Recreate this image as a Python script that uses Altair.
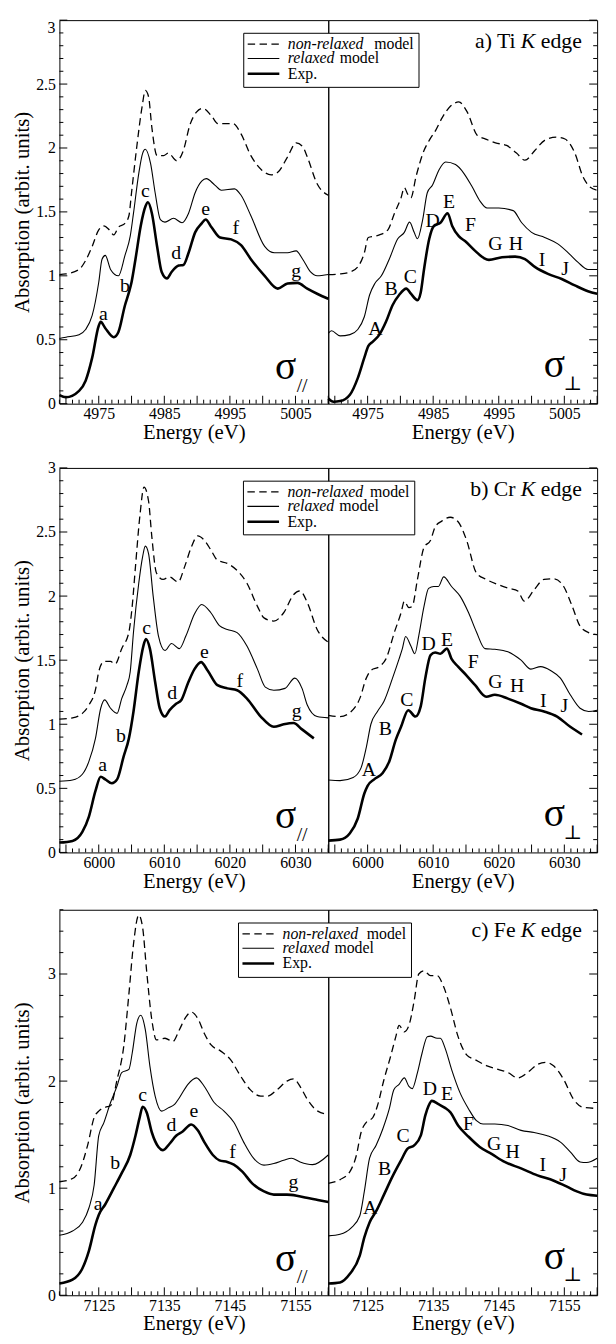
import altair as alt
import numpy as np
import pandas as pd

FONT = "Liberation Serif"
SYMFONT = "Liberation Serif, DejaVu Serif, DejaVu Sans"

# ---------------- Ti K edge ----------------
TI_PAR_NONREL = [(4969,1.01),(4970,1.015),(4972,1.05),(4973,1.12),(4974,1.23),(4975,1.36),(4975.8,1.39),(4976.6,1.36),(4977.3,1.32),(4978,1.38),(4979,1.41),(4979.6,1.47),(4980,1.65),(4980.8,2.01),(4981.6,2.32),(4982.1,2.45),(4982.6,2.40),(4983.1,2.16),(4983.9,1.94),(4984.9,1.94),(4985.6,1.96),(4986.9,1.90),(4987.9,1.98),(4988.9,2.18),(4989.9,2.28),(4990.9,2.31),(4992.2,2.25),(4993.2,2.19),(4994.2,2.19),(4995.5,2.19),(4996.7,2.11),(4998.2,1.94),(4999.8,1.83),(5001.3,1.79),(5002.3,1.81),(5003.8,1.93),(5005.1,2.04),(5006.1,2.01),(5006.8,1.93),(5008.3,1.72),(5010,1.63)]
TI_PAR_REL = [(4969,0.51),(4970,0.52),(4972,0.54),(4973,0.58),(4974,0.69),(4975,0.95),(4975.5,1.13),(4976,1.16),(4976.8,1.05),(4978,1.0),(4979,1.16),(4979.8,1.31),(4980.3,1.49),(4981.1,1.80),(4981.7,1.96),(4982.1,1.99),(4982.9,1.88),(4983.6,1.65),(4984.4,1.44),(4985.1,1.42),(4986.4,1.45),(4987.7,1.415),(4988.7,1.49),(4989.7,1.65),(4990.7,1.74),(4991.4,1.76),(4992.7,1.71),(4993.7,1.67),(4995.7,1.68),(4996.7,1.63),(4998.2,1.47),(5000.3,1.23),(5001.8,1.18),(5003.8,1.18),(5005.1,1.195),(5006.1,1.13),(5007.3,1.03),(5008.3,1.0),(5010,1.01)]
TI_PAR_EXP = [(4969,0.067),(4970,0.05),(4972,0.1),(4973,0.18),(4974,0.36),(4975,0.61),(4975.3,0.64),(4976,0.59),(4977.3,0.52),(4978,0.56),(4979,0.77),(4979.6,0.87),(4980,0.95),(4980.6,1.13),(4981.4,1.39),(4982.1,1.54),(4982.5,1.575),(4983.1,1.49),(4983.9,1.23),(4984.6,1.03),(4985.4,0.98),(4986.1,1.03),(4987.2,1.08),(4987.9,1.085),(4988.7,1.18),(4989.7,1.34),(4990.7,1.41),(4991.3,1.44),(4992.2,1.38),(4993.5,1.30),(4995.2,1.285),(4996.7,1.24),(4998.2,1.13),(5000.3,1.0),(5002.3,0.90),(5003.8,0.94),(5005.3,0.945),(5006.8,0.90),(5008.3,0.86),(5010,0.82)]
TI_PER_NONREL = [(4969,1.01),(4970.8,1.015),(4972.3,1.03),(4973.5,1.07),(4974.5,1.18),(4975.1,1.30),(4976.1,1.31),(4976.8,1.32),(4978.1,1.36),(4979.1,1.49),(4980.1,1.61),(4980.6,1.69),(4981.1,1.64),(4981.6,1.61),(4982.4,1.78),(4983.6,1.98),(4984.4,2.06),(4985.4,2.14),(4986.4,2.24),(4987.7,2.33),(4988.9,2.36),(4990.2,2.28),(4991.7,2.10),(4993,2.07),(4994.5,2.04),(4996.2,2.02),(4997.7,1.96),(4999,1.905),(5000.5,1.98),(5002,2.06),(5003.8,2.085),(5005.1,2.07),(5006.6,1.96),(5007.8,1.78),(5008.8,1.70),(5010,1.67)]
TI_PER_REL = [(4969,0.55),(4969.5,0.57),(4970.8,0.53),(4972.3,0.54),(4973.5,0.58),(4974.5,0.68),(4975.3,0.85),(4976.1,0.94),(4977.1,1.0),(4978.3,1.13),(4979.6,1.29),(4980.6,1.34),(4981.4,1.42),(4982.1,1.34),(4982.6,1.29),(4983.4,1.44),(4984.1,1.65),(4984.9,1.71),(4985.9,1.83),(4986.9,1.89),(4988.4,1.87),(4989.7,1.80),(4990.9,1.70),(4992.2,1.58),(4993.2,1.53),(4995,1.53),(4997.2,1.51),(4998.5,1.415),(5000,1.34),(5002,1.30),(5004,1.25),(5005.6,1.18),(5007.1,1.105),(5008.6,1.05),(5010,1.05)]
TI_PER_EXP = [(4969,0.04),(4969.8,0.015),(4970.8,0.02),(4972.3,0.07),(4973.5,0.2),(4974.5,0.36),(4975.1,0.45),(4975.8,0.485),(4976.8,0.54),(4977.8,0.64),(4978.8,0.77),(4979.8,0.85),(4980.9,0.90),(4981.6,0.86),(4982.6,0.81),(4983.1,0.87),(4983.6,1.05),(4984.4,1.29),(4985.1,1.39),(4986.1,1.415),(4987.2,1.49),(4987.9,1.39),(4988.9,1.31),(4989.9,1.27),(4991.4,1.195),(4992.7,1.14),(4993.5,1.125),(4995.5,1.145),(4997.5,1.15),(4999,1.13),(5000.5,1.07),(5002.5,1.015),(5004.6,0.975),(5006.6,0.925),(5008.6,0.88),(5010,0.86)]

# ---------------- Cr K edge ----------------
CR_PAR_NONREL = [(5994,1.04),(5996,1.05),(5997.5,1.085),(5998.5,1.15),(5999.5,1.27),(6000,1.41),(6000.8,1.49),(6001.8,1.49),(6002.5,1.47),(6003.5,1.59),(6004.6,1.72),(6005.1,1.92),(6005.6,2.23),(6006.3,2.64),(6006.9,2.85),(6007.6,2.74),(6008.1,2.46),(6008.8,2.18),(6009.8,2.13),(6010.8,2.15),(6012.1,2.11),(6013.1,2.23),(6014.1,2.38),(6015.1,2.47),(6016.1,2.435),(6017.1,2.36),(6018.1,2.28),(6019.6,2.255),(6021.1,2.20),(6022.6,2.10),(6024.2,1.92),(6025.2,1.83),(6026.7,1.805),(6028.2,1.87),(6029.7,2.01),(6030.7,2.04),(6031.8,1.95),(6033.3,1.74),(6035,1.64)]
CR_PAR_REL = [(5994,0.555),(5996,0.565),(5997.5,0.61),(5998.5,0.71),(5999.5,0.89),(6000.3,1.125),(6000.9,1.19),(6001.8,1.125),(6002.8,1.085),(6003.5,1.2),(6004.3,1.305),(6004.8,1.41),(6005.3,1.72),(6006.1,2.10),(6006.7,2.31),(6007.1,2.39),(6007.6,2.33),(6008.3,2.0),(6009.1,1.69),(6010.1,1.575),(6011.1,1.63),(6012.3,1.59),(6013.3,1.69),(6014.6,1.86),(6015.7,1.935),(6017.1,1.87),(6018.4,1.77),(6019.6,1.74),(6021.1,1.715),(6022.6,1.61),(6024.2,1.43),(6025.4,1.29),(6026.7,1.265),(6028.4,1.28),(6029.9,1.36),(6031,1.28),(6031.8,1.15),(6033.3,1.06),(6035,1.05)]
CR_PAR_EXP = [(5994,0.077),(5996,0.09),(5997.5,0.16),(5998.5,0.28),(5999.5,0.48),(6000.3,0.59),(6001,0.57),(6002,0.54),(6002.8,0.57),(6003.8,0.75),(6004.6,0.89),(6005.3,1.1),(6006.1,1.41),(6006.8,1.61),(6007.2,1.665),(6007.8,1.59),(6008.6,1.33),(6009.3,1.125),(6010.1,1.06),(6010.8,1.11),(6011.8,1.16),(6012.6,1.19),(6013.6,1.32),(6014.6,1.43),(6015.6,1.485),(6016.6,1.42),(6018.1,1.305),(6019.6,1.28),(6021.1,1.265),(6022.6,1.20),(6024.7,1.06),(6026.7,0.98),(6028.2,1.0),(6029.7,1.01),(6031,0.96),(6032.8,0.89)]
CR_PER_NONREL = [(5994,1.07),(5995.8,1.06),(5997.5,1.10),(5998.8,1.20),(5999.8,1.36),(6000.5,1.42),(6001.8,1.45),(6002.8,1.51),(6004.1,1.72),(6005.1,1.87),(6005.6,1.96),(6006.3,1.91),(6006.8,1.92),(6007.6,2.13),(6008.6,2.38),(6009.6,2.435),(6010.3,2.54),(6011.3,2.585),(6012.6,2.615),(6013.8,2.58),(6015.1,2.435),(6016.6,2.18),(6018.1,2.13),(6019.9,2.09),(6021.6,2.06),(6022.9,2.04),(6023.9,1.96),(6025.4,2.05),(6026.9,2.13),(6028.4,2.135),(6029.9,2.075),(6031.2,1.92),(6032.4,1.765),(6033.7,1.715),(6035,1.70)]
CR_PER_REL = [(5994,0.565),(5995.8,0.56),(5997.8,0.585),(5999,0.66),(5999.8,0.82),(6000.5,1.0),(6001.5,1.10),(6002.5,1.18),(6003.8,1.36),(6004.8,1.51),(6005.3,1.59),(6005.8,1.685),(6006.6,1.61),(6007.2,1.55),(6007.8,1.69),(6008.6,1.92),(6009.3,2.06),(6010.1,2.075),(6010.8,2.075),(6011.6,2.15),(6012.8,2.075),(6014.1,2.0),(6015.4,1.87),(6016.6,1.72),(6017.9,1.59),(6019.4,1.585),(6021.4,1.565),(6023.4,1.50),(6024.9,1.43),(6026.4,1.45),(6027.9,1.42),(6029.4,1.36),(6030.9,1.23),(6032.4,1.125),(6033.7,1.10),(6035,1.11)]
CR_PER_EXP = [(5994,0.092),(5995.8,0.10),(5997.3,0.15),(5998.5,0.265),(5999.5,0.46),(6000,0.52),(6001,0.57),(6002.3,0.62),(6003.3,0.71),(6004.3,0.88),(6005.1,0.98),(6006.2,1.11),(6007.3,1.06),(6008.1,1.14),(6008.8,1.36),(6009.6,1.54),(6010.3,1.56),(6011.1,1.55),(6012.1,1.59),(6012.8,1.51),(6013.8,1.45),(6015.1,1.38),(6016.4,1.305),(6018.1,1.215),(6019.4,1.23),(6021.4,1.20),(6023.4,1.16),(6024.9,1.125),(6026.9,1.10),(6028.9,1.06),(6030.9,0.98),(6032.7,0.92)]

# ---------------- Fe K edge ----------------
FE_PAR_NONREL = [(7119,1.06),(7121,1.09),(7122.3,1.20),(7123.3,1.40),(7124.3,1.66),(7125,1.72),(7126,1.755),(7126.8,1.77),(7127.8,2.015),(7128.8,2.32),(7129.6,2.815),(7130.3,3.28),(7131.1,3.55),(7131.7,3.43),(7132.3,3.03),(7133.1,2.57),(7133.8,2.385),(7135.1,2.40),(7136.3,2.37),(7137.3,2.48),(7138.3,2.60),(7139.1,2.645),(7140.1,2.585),(7141.1,2.445),(7142.1,2.34),(7143.6,2.28),(7145.1,2.20),(7146.6,2.05),(7148.1,1.92),(7149.7,1.86),(7150.7,1.86),(7152.2,1.92),(7153.7,2.0),(7154.7,2.02),(7155.9,1.93),(7156.8,1.83),(7158.4,1.72),(7160,1.69)]
FE_PAR_REL = [(7119,0.56),(7121,0.6),(7122.5,0.68),(7123.5,0.815),(7124.3,1.03),(7125,1.49),(7125.8,1.615),(7126.8,1.8),(7127.8,1.955),(7128.5,2.08),(7129.6,2.11),(7130.1,2.26),(7130.8,2.54),(7131.4,2.615),(7132.1,2.48),(7132.8,2.14),(7133.6,1.86),(7134.6,1.72),(7135.6,1.75),(7136.6,1.785),(7137.3,1.845),(7138.6,1.97),(7139.9,2.03),(7141.1,1.95),(7142.6,1.80),(7144.1,1.72),(7145.6,1.615),(7147.1,1.43),(7148.6,1.28),(7150.2,1.215),(7151.7,1.23),(7153.2,1.26),(7154.4,1.28),(7155.7,1.245),(7157.6,1.22),(7160,1.31)]
FE_PAR_EXP = [(7119,0.11),(7121,0.145),(7122.5,0.25),(7123.5,0.415),(7124.5,0.66),(7125,0.75),(7126,0.85),(7127.3,1.0),(7128.5,1.14),(7129.8,1.31),(7130.6,1.49),(7131.2,1.65),(7131.7,1.76),(7132.3,1.71),(7133.1,1.52),(7134.1,1.385),(7134.8,1.355),(7135.8,1.415),(7136.8,1.49),(7137.8,1.53),(7139.1,1.595),(7140.1,1.54),(7141.1,1.43),(7142.4,1.31),(7143.4,1.26),(7144.6,1.245),(7145.6,1.22),(7146.9,1.155),(7148.4,1.045),(7150.2,0.97),(7151.7,0.94),(7153.7,0.94),(7155.2,0.93),(7156.7,0.91),(7158.4,0.89),(7160,0.87)]
FE_PER_NONREL = [(7119,1.045),(7120.8,1.08),(7122.3,1.155),(7123.3,1.31),(7124,1.52),(7124.8,1.615),(7125.8,1.66),(7126.5,1.77),(7127.5,2.015),(7128.5,2.23),(7129.3,2.415),(7129.8,2.52),(7130.6,2.46),(7131.3,2.52),(7132.1,2.75),(7132.8,3.0),(7133.6,3.03),(7134.6,2.985),(7135.6,2.985),(7136.6,2.88),(7137.6,2.69),(7138.8,2.415),(7140.1,2.245),(7141.4,2.20),(7143.1,2.145),(7144.9,2.11),(7146.4,2.08),(7147.9,2.03),(7149.4,2.08),(7150.9,2.155),(7152.2,2.175),(7153.4,2.14),(7154.9,2.015),(7156.4,1.83),(7157.9,1.755),(7160,1.745)]
FE_PER_REL = [(7119,0.555),(7120.8,0.57),(7122.5,0.63),(7123.8,0.74),(7124.5,0.97),(7125.3,1.28),(7126.3,1.40),(7127.3,1.55),(7128.3,1.74),(7129,1.92),(7129.8,1.97),(7130.6,2.03),(7131.3,1.95),(7131.8,1.93),(7132.6,2.08),(7133.3,2.26),(7134.1,2.415),(7134.6,2.42),(7135.6,2.40),(7136.1,2.40),(7136.8,2.31),(7137.8,2.11),(7139.1,1.89),(7140.4,1.74),(7141.6,1.63),(7142.6,1.60),(7144.4,1.60),(7146.4,1.585),(7148.4,1.54),(7150.4,1.52),(7152.4,1.49),(7154.4,1.43),(7155.9,1.34),(7157.4,1.245),(7158.4,1.24),(7160,1.28)]
FE_PER_EXP = [(7119,0.11),(7120.8,0.12),(7122.3,0.2),(7123.8,0.37),(7124.5,0.54),(7125.3,0.68),(7126.3,0.785),(7127.5,0.94),(7128.8,1.11),(7130.1,1.26),(7131.1,1.37),(7132.1,1.40),(7133.1,1.49),(7133.8,1.68),(7134.3,1.77),(7134.8,1.815),(7135.8,1.785),(7136.8,1.75),(7137.6,1.71),(7138.8,1.585),(7140.4,1.48),(7142.1,1.385),(7143.9,1.32),(7145.9,1.245),(7148.4,1.185),(7150.9,1.12),(7153.4,1.07),(7155.4,1.015),(7156.9,0.97),(7158.4,0.94),(7160,0.93)]

# ---------------- feature letters ----------------
LOWER = ["a", "b", "c", "d", "e", "f", "g"]
UPPER = ["A", "B", "C", "D", "E", "F", "G", "H", "I", "J"]
TI_PAR_LAB_E = [4975.7, 4979, 4982.1, 4986.8, 4991.3, 4995.9, 5005.1]
TI_PAR_LAB_A = [0.70, 0.92, 1.66, 1.18, 1.52, 1.37, 1.04]
TI_PER_LAB_E = [4976.2, 4978.6, 4981.5, 4984.9, 4987.4, 4990.7, 4994.5, 4997.6, 5001.6, 5005.1]
TI_PER_LAB_A = [0.58, 0.90, 0.99, 1.43, 1.58, 1.40, 1.25, 1.25, 1.12, 1.05]
CR_PAR_LAB_E = [6000.6, 6003.4, 6007.3, 6011.2, 6016.1, 6021.5, 6030.2]
CR_PAR_LAB_A = [0.68, 0.91, 1.75, 1.24, 1.56, 1.34, 1.10]
CR_PER_LAB_E = [6000.2, 6002.7, 6006.0, 6009.3, 6012.1, 6016.1, 6019.5, 6022.8, 6026.8, 6030.0]
CR_PER_LAB_A = [0.645, 0.96, 1.19, 1.625, 1.66, 1.485, 1.33, 1.30, 1.18, 1.14]
FE_PAR_LAB_E = [7124.9, 7127.5, 7131.7, 7136.1, 7139.5, 7145.4, 7154.7]
FE_PAR_LAB_A = [0.85, 1.23, 1.87, 1.585, 1.72, 1.34, 1.06]
FE_PER_LAB_E = [7125.4, 7127.6, 7130.4, 7134.5, 7137.1, 7140.4, 7144.3, 7147.1, 7151.7, 7154.8]
FE_PER_LAB_A = [0.815, 1.18, 1.49, 1.93, 1.88, 1.60, 1.415, 1.34, 1.215, 1.12]

# ---------------- axes ----------------
TI_XDOM = [4969, 5010]
CR_XDOM = [5994, 6035]
FE_XDOM = [7119, 7160]
TI_XLABELS = [4975, 4985, 4995, 5005]
CR_XLABELS = [6000, 6010, 6020, 6030]
FE_XLABELS = [7125, 7135, 7145, 7155]
Y_LABELS_A = [0, 0.5, 1, 1.5, 2, 2.5]      # the top "3" of row a) is drawn as a text mark
Y_LABELS_B = [0, 0.5, 1, 1.5, 2, 2.5, 3]
Y_LABELS_C = [0, 1, 2, 3]
Y_TOP_LABEL_A = "3"
EDGE_NAMES = ["a) Ti", "b) Cr", "c) Fe"]
LEGEND_TEXT = ["non-relaxed", "relaxed", "Exp.", "model"]

ROW_H = [388, 389, 390]
W = 272


def pdf(pairs):
    return pd.DataFrame(pairs, columns=["E", "A"])


def make_panel(side, row, curves, lab_e, lab_a, lab_t, xdom, ydom, xlabels,
               ylabels, ymaj, ymin, legend=None):
    H = ROW_H[row]
    xs = alt.Scale(domain=xdom, nice=False, zero=False)
    ys = alt.Scale(domain=ydom, nice=False, zero=False)
    xaxis = alt.Axis(values=xlabels, ticks=False, domain=False, grid=False,
                     labelFont=FONT, labelFontSize=16, labelColor="black",
                     labelPadding=2, labelFlush=False, format="d",
                     title="Energy (eV)", titleFont=FONT, titleFontSize=21,
                     titleFontWeight="normal", titleColor="black",
                     titleY=35, titleBaseline="alphabetic")
    if side == "left":
        yaxis = alt.Axis(values=ylabels, ticks=False, domain=False, grid=False,
                         labelFont=FONT, labelFontSize=16, labelColor="black",
                         labelPadding=4, format="~g", labelFlush=False,
                         title="Absorption (arbit. units)", titleFont=FONT,
                         titleFontSize=21, titleFontWeight="normal",
                         titleColor="black", titleX=-31.5,
                         titleBaseline="alphabetic")
    else:
        yaxis = None

    def X(f):
        return alt.X(f + ":Q", scale=xs, axis=xaxis)

    def Y(f):
        return alt.Y(f + ":Q", scale=ys, axis=yaxis)

    layers = []
    styles = [dict(strokeDash=[7.5, 4.5], strokeWidth=1.3),
              dict(strokeWidth=1.1),
              dict(strokeWidth=2.6)]
    for pairs, st in zip(curves, styles):
        layers.append(alt.Chart(pdf(pairs)).mark_line(
            color="black", interpolate="monotone", **st).encode(x=X("E"), y=Y("A")))

    layers.append(alt.Chart(pd.DataFrame({"E": lab_e, "A": lab_a, "t": lab_t})).mark_text(
        font=FONT, fontSize=20, color="black", align="center", baseline="middle"
    ).encode(x=X("E"), y=Y("A"), text="t:N"))

    # inward tick marks
    xmaj = [v for v in range(int(xdom[0]), int(xdom[1]) + 1) if v % 5 == 0]
    xmin = [v for v in range(int(xdom[0]), int(xdom[1]) + 1) if v % 5 != 0]
    for vals, ln in ((xmaj, 8), (xmin, 4)):
        layers.append(alt.Chart(pd.DataFrame({"E": vals})).mark_rule(
            color="black", strokeWidth=1).encode(
            x=X("E"), y=alt.value(H), y2=alt.value(H - ln)))
    ymajv = list(np.round(np.arange(0, ydom[1] + 1e-9, ymaj), 3))
    yminv = [v for v in np.round(np.arange(0, ydom[1] + 1e-9, ymin), 3)
             if min(abs(v - m) for m in ymajv) > 1e-6]
    for vals, ln in ((ymajv, 8), (yminv, 4)):
        if side == "left":
            xa, xb = 0, ln
        else:
            xa, xb = W, W - ln
        layers.append(alt.Chart(pd.DataFrame({"A": vals})).mark_rule(
            color="black", strokeWidth=1).encode(
            y=Y("A"), x=alt.value(xa), x2=alt.value(xb)))

    one = pd.DataFrame({"k": [0]})
    if side == "left" and row == 0:
        # top tick label of the first row, kept inside the frame's top edge
        layers.append(alt.Chart(one).mark_text(
            text=Y_TOP_LABEL_A, font=FONT, fontSize=16, color="black",
            align="right", baseline="top").encode(x=alt.value(-4), y=alt.value(0)))
    # sigma labels
    if side == "left":
        layers.append(alt.Chart(one).mark_text(
            text="σ", font=SYMFONT, fontSize=40, color="black", align="left",
            baseline="alphabetic").encode(x=alt.value(218), y=alt.value(H - 25)))
        layers.append(alt.Chart(one).mark_text(
            text="//", font=FONT, fontSize=20, color="black", align="left",
            baseline="alphabetic").encode(x=alt.value(240), y=alt.value(H - 12)))
    else:
        layers.append(alt.Chart(one).mark_text(
            text="σ", font=SYMFONT, fontSize=40, color="black", align="left",
            baseline="alphabetic").encode(x=alt.value(218), y=alt.value(H - 27)))
        layers.append(alt.Chart(one).mark_text(
            text="⊥", font=SYMFONT, fontSize=20, color="black", align="left",
            baseline="alphabetic").encode(x=alt.value(238), y=alt.value(H - 14)))
        # edge title
        layers.append(alt.Chart(one).mark_text(
            text=EDGE_NAMES[row], font=FONT, fontSize=22, color="black",
            align="right", baseline="alphabetic").encode(x=alt.value(189.5), y=alt.value(28)))
        layers.append(alt.Chart(one).mark_text(
            text="K", font=FONT, fontSize=22, fontStyle="italic", color="black",
            align="right", baseline="alphabetic").encode(x=alt.value(209.5), y=alt.value(28)))
        layers.append(alt.Chart(one).mark_text(
            text="edge", font=FONT, fontSize=22, color="black",
            align="left", baseline="alphabetic").encode(x=alt.value(215), y=alt.value(28)))
        # legend box (drawn on the right panel, reaching into the left one)
        bx0, bx1, by0, by1 = legend
        layers.append(alt.Chart(one).mark_rect(
            fill="white", stroke="black", strokeWidth=1).encode(
            x=alt.value(bx0), x2=alt.value(bx1), y=alt.value(by0), y2=alt.value(by1)))
        ly = [by0 + 10.9, by0 + 25.5, by0 + 41]
        lx0, lx1, tx = bx0 + 4, bx0 + 36, bx0 + 44.5
        for yy, st in zip(ly, styles):
            layers.append(alt.Chart(one).mark_rule(color="black", **st).encode(
                x=alt.value(lx0), x2=alt.value(lx1), y=alt.value(yy)))
        layers.append(alt.Chart(one).mark_text(
            text=LEGEND_TEXT[0], font=FONT, fontSize=16, fontStyle="italic",
            color="black", align="left", baseline="middle").encode(
            x=alt.value(tx), y=alt.value(ly[0])))
        layers.append(alt.Chart(one).mark_text(
            text=LEGEND_TEXT[3], font=FONT, fontSize=16, color="black",
            align="right", baseline="middle").encode(
            x=alt.value(bx1 - 5.3), y=alt.value(ly[0])))
        layers.append(alt.Chart(one).mark_text(
            text=LEGEND_TEXT[1], font=FONT, fontSize=16, fontStyle="italic",
            color="black", align="left", baseline="middle").encode(
            x=alt.value(tx), y=alt.value(ly[1])))
        layers.append(alt.Chart(one).mark_text(
            text=LEGEND_TEXT[3], font=FONT, fontSize=16, color="black",
            align="left", baseline="middle").encode(
            x=alt.value(tx + 52.5), y=alt.value(ly[1])))
        layers.append(alt.Chart(one).mark_text(
            text=LEGEND_TEXT[2], font=FONT, fontSize=16, color="black",
            align="left", baseline="middle").encode(
            x=alt.value(tx), y=alt.value(ly[2])))

    return alt.layer(*layers).properties(width=W, height=H)


ti_l = make_panel("left", 0, [TI_PAR_NONREL, TI_PAR_REL, TI_PAR_EXP], TI_PAR_LAB_E, TI_PAR_LAB_A, LOWER,
                  TI_XDOM, [0, 3], TI_XLABELS, Y_LABELS_A, 0.5, 0.1)
ti_r = make_panel("right", 0, [TI_PER_NONREL, TI_PER_REL, TI_PER_EXP], TI_PER_LAB_E, TI_PER_LAB_A, UPPER,
                  TI_XDOM, [0, 3], TI_XLABELS, Y_LABELS_A, 0.5, 0.1,
                  legend=(-85.5, 91.8, 13.3, 68))
cr_l = make_panel("left", 1, [CR_PAR_NONREL, CR_PAR_REL, CR_PAR_EXP], CR_PAR_LAB_E, CR_PAR_LAB_A, LOWER,
                  CR_XDOM, [0, 3], CR_XLABELS, Y_LABELS_B, 0.5, 0.1)
cr_r = make_panel("right", 1, [CR_PER_NONREL, CR_PER_REL, CR_PER_EXP], CR_PER_LAB_E, CR_PER_LAB_A, UPPER,
                  CR_XDOM, [0, 3], CR_XLABELS, Y_LABELS_B, 0.5, 0.1,
                  legend=(-85.8, 87.5, 13.4, 67.7))
fe_l = make_panel("left", 2, [FE_PAR_NONREL, FE_PAR_REL, FE_PAR_EXP], FE_PAR_LAB_E, FE_PAR_LAB_A, LOWER,
                  FE_XDOM, [0, 3.6], FE_XLABELS, Y_LABELS_C, 1, 0.2)
fe_r = make_panel("right", 2, [FE_PER_NONREL, FE_PER_REL, FE_PER_EXP], FE_PER_LAB_E, FE_PER_LAB_A, UPPER,
                  FE_XDOM, [0, 3.6], FE_XLABELS, Y_LABELS_C, 1, 0.2,
                  legend=(-90.8, 84.2, 13.4, 68.4))

row1 = alt.hconcat(ti_l, ti_r, spacing=0, bounds="flush")
row2 = alt.hconcat(cr_l, cr_r, spacing=0, bounds="flush")
row3 = alt.hconcat(fe_l, fe_r, spacing=0, bounds="flush")
top = alt.vconcat(row1, row2, spacing=16)
chart = alt.vconcat(top, row3, spacing=17).properties(
    padding={"left": 3, "top": 3.5, "right": 5, "bottom": 0}
).configure_view(stroke="black", strokeWidth=1).configure_axis(
    labelFont=FONT, titleFont=FONT, titleFontWeight="normal"
)

chart.save("out.html", embed_options={"renderer": "svg", "actions": False})
